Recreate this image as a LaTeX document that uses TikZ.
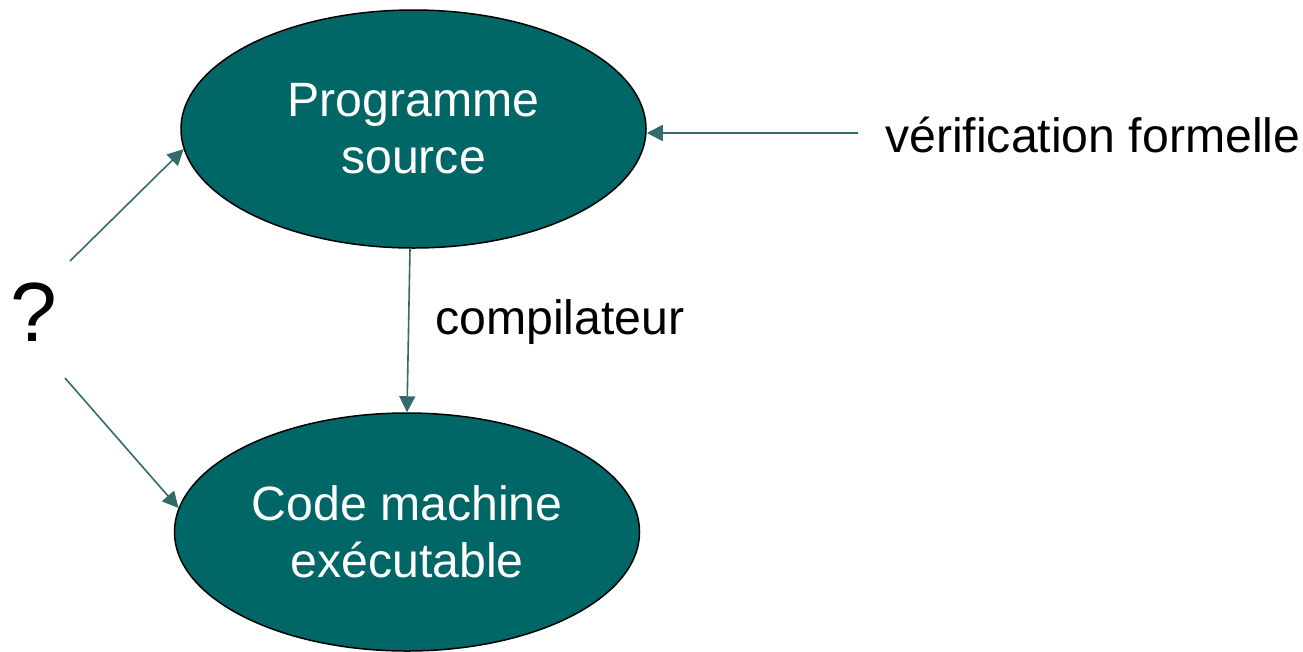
\documentclass[tikz,border=0pt]{standalone}
\usepackage{fontspec}
\setmainfont{Liberation Sans}
\usetikzlibrary{shapes.geometric,arrows.meta}
\definecolor{tealfill}{HTML}{006666}
\definecolor{arrcol}{HTML}{336B6B}
\begin{document}
\begin{tikzpicture}[x=1pt,y=1pt,
  oval/.style={ellipse,draw=black,line width=1.5pt,fill=tealfill,text=white,
    minimum width=465pt,minimum height=238pt,inner sep=0pt,align=center,
    font=\fontsize{48.2}{57}\selectfont},
  arr/.style={draw=arrcol,line width=1.6pt,-{Triangle[length=16pt,width=16pt]}},
  lbl/.style={anchor=base west,inner sep=0pt,font=\fontsize{48.2}{57}\selectfont}]
\useasboundingbox (0,0) rectangle (1303,-651);
\node[oval] (top) at (413.5,-129) {Programme\\source};
\node[oval] (bot) at (407,-532) {Code machine\\exécutable};
\node[lbl] (comp) at (435,-334) {compilateur};
\node[lbl] (vf) at (885,-152) {vérification formelle};
\node[lbl,font=\fontsize{84}{90}\selectfont] (q) at (10,-341) {?};
\coordinate (vfs) at (858,-133);
\coordinate (q1) at (70,-261);
\coordinate (q2) at (65,-378);
\draw[arr] ([xshift=-3.5pt]top.south) -- (bot.north);
\draw[arr] (vfs) -- ([yshift=-4pt]top.east);
\draw[arr] (q1) -- (top.185);
\draw[arr] (q2) -- (bot.174);
\end{tikzpicture}
\end{document}
